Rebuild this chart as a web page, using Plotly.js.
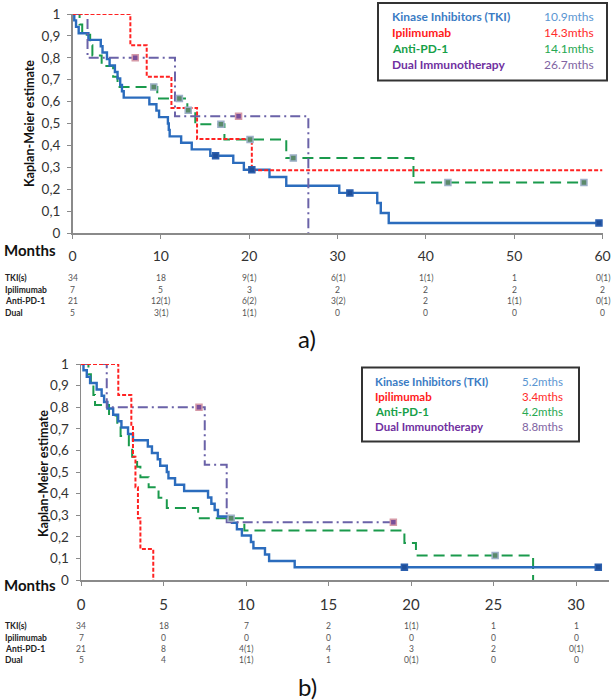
<!DOCTYPE html>
<html>
<head>
<meta charset="utf-8">
<script src="https://cdn.plot.ly/plotly-3.0.1.min.js"></script>
<style>
  html, body { margin: 0; padding: 0; background: #ffffff; }
  #chart { width: 612px; height: 700px; }
</style>
</head>
<body>
<div id="chart"></div>
<script>
// curvas de Kaplan-Meier (tempo do degrau, sobrevida depois do degrau) e censuras
// painel a)
var tkiA_t = [0,0.2,0.4,0.7,1.8,3.2,3.4,3.9,4.2,4.8,5.1,5.4,5.6,5.8,8.7,9.5,9.8,10.8,10.9,11.0,12.3,13.5,15.6,18.2,19.4,22.3,24.2,30.2,34.5,34.9,35.8,59.6];
var tkiA_s = [1,0.971,0.941,0.912,0.882,0.853,0.824,0.794,0.765,0.735,0.706,0.676,0.647,0.618,0.588,0.559,0.529,0.5,0.471,0.441,0.412,0.382,0.353,0.32,0.289,0.256,0.216,0.183,0.137,0.091,0.046,0.046];
var tkiA_cens = [16.2,20.3,31.4,59.6];
var ipiA_t = [0,6.55,8.4,11.2,14.1,20.3,60];
var ipiA_s = [1,0.857,0.714,0.571,0.429,0.286,0.286];
var ipiA_cens = [];
var pd1A_t = [0,0.8,1.1,2.0,2.25,3.3,4.6,5.1,9.6,13.0,13.9,17.2,24.2,38.6,57.9];
var pd1A_s = [1,0.952,0.905,0.857,0.81,0.762,0.714,0.667,0.614,0.561,0.497,0.427,0.342,0.231,0.231];
var pd1A_cens = [9.2,12.1,13.1,16.8,20.1,25.0,42.5,57.9];
var dualA_t = [0,1.7,11.6,26.7];
var dualA_s = [1,0.8,0.533,0];
var dualA_cens = [7.1,18.8];

// painel b)
var tkiB_t = [0,0.15,0.35,0.55,0.95,1.25,1.4,1.6,1.95,2.25,2.45,2.85,3.15,4.05,4.3,4.65,4.8,5.2,5.3,5.7,6.25,7.7,7.9,8.1,8.3,9.15,9.45,9.75,10.3,10.45,11.15,11.4,12.95,31.35];
var tkiB_s = [1,0.971,0.941,0.912,0.882,0.853,0.824,0.794,0.765,0.735,0.706,0.676,0.647,0.618,0.588,0.559,0.529,0.5,0.471,0.441,0.412,0.382,0.353,0.324,0.294,0.265,0.235,0.206,0.176,0.147,0.118,0.088,0.059,0.059];
var tkiB_cens = [19.6,31.35];
var ipiB_t = [0,2.26,3.05,3.15,3.3,3.45,3.6,4.38];
var ipiB_s = [1,0.857,0.714,0.571,0.429,0.286,0.143,0];
var ipiB_cens = [];
var pd1B_t = [0,0.45,0.6,0.75,0.85,1.7,2.2,2.4,2.9,3.1,3.4,3.6,4.1,4.7,5.2,7.1,9.9,19.6,20.3,27.4];
var pd1B_s = [1,0.952,0.905,0.857,0.81,0.762,0.714,0.667,0.619,0.571,0.524,0.476,0.429,0.381,0.333,0.286,0.229,0.171,0.114,0];
var pd1B_cens = [9.1,25.1];
var dualB_t = [0,1.56,7.5,8.83,18.93];
var dualB_s = [1,0.8,0.533,0.267,0.267];
var dualB_cens = [7.15,18.93];

// tabela de pacientes em risco
var groupNames = ['TKI(s)','Ipilimumab','Anti-PD-1','Dual'];
var riskTimesA = [0,10,20,30,40,50,60];
var riskA = [
  ['34','18','9(1)','6(1)','1(1)','1','0(1)'],
  ['7','5','3','2','2','2','2'],
  ['21','12(1)','6(2)','3(2)','2','1(1)','0(1)'],
  ['5','3(1)','1(1)','0','0','0','0']
];
var riskTimesB = [0,5,10,15,20,25,30];
var riskB = [
  ['34','18','7','2','1(1)','1','1'],
  ['7','0','0','0','0','0','0'],
  ['21','8','4(1)','4','3','2','0(1)'],
  ['5','4','1(1)','1','0(1)','0','0']
];

// legendas com a mediana
var legendNames = ['Kinase Inhibitors (TKI)','Ipilimumab','Anti-PD-1','Dual Immunotherapy'];
var mediansA = ['10.9mths','14.3mths','14.1mths','26.7mths'];
var mediansB = ['5.2mths','3.4mths','4.2mths','8.8mths'];

var W = 612, H = 700;
function fx(px) { return px / W; }
function fy(py) { return 1 - py / H; }

var FONT = 'Lato, "Open Sans", sans-serif';
var labelColors = ['#3b7cc4','#ff1a1a','#17a048','#7030a0'];
var valueColors = ['#5b96d2','#ff2a2a','#27a851','#8064a2'];

// valor da curva num tempo (pra pôr a marca de censura em cima da linha)
function stepAt(ts, ss, t) {
  var v = ss[0];
  for (var i = 0; i < ts.length; i++) {
    if (ts[i] <= t) v = ss[i];
  }
  return v;
}

function curve(ts, ss, xa, ya, color, width, dash) {
  return {x: ts, y: ss, xaxis: xa, yaxis: ya, type: 'scatter', mode: 'lines',
    line: {shape: 'hv', color: color, width: width, dash: dash}, hoverinfo: 'skip', showlegend: false};
}

function censMarks(ts, ss, cens, xa, ya, fill, edge) {
  return {x: cens, y: cens.map(function (t) { return stepAt(ts, ss, t); }), xaxis: xa, yaxis: ya,
    type: 'scatter', mode: 'markers', cliponaxis: false,
    marker: {symbol: 'square', size: 6, color: fill, line: {color: edge, width: 1.5}},
    hoverinfo: 'skip', showlegend: false};
}

var BLUE = '#2b6cbd', RED = '#ff2222', GREEN = '#1a9a4c', PURPLE = '#6a62a8';
var dashRed = '4px,2px', dashGreen = '11px,6px', dashDual = '10px,4px,2px,4px';

var data = [
  curve(pd1A_t, pd1A_s, 'x', 'y', GREEN, 2, dashGreen),
  curve(tkiA_t, tkiA_s, 'x', 'y', BLUE, 2.4, 'solid'),
  curve(dualA_t, dualA_s, 'x', 'y', PURPLE, 2, dashDual),
  curve(ipiA_t, ipiA_s, 'x', 'y', RED, 2, dashRed),
  censMarks(pd1A_t, pd1A_s, pd1A_cens, 'x', 'y', '#5b8a6a', '#9db0c8'),
  censMarks(tkiA_t, tkiA_s, tkiA_cens, 'x', 'y', '#1f4f9a', '#2b5fae'),
  censMarks(dualA_t, dualA_s, dualA_cens, 'x', 'y', '#7a4f9a', '#d59aa8'),

  curve(pd1B_t, pd1B_s, 'x2', 'y2', GREEN, 2, dashGreen),
  curve(tkiB_t, tkiB_s, 'x2', 'y2', BLUE, 2.4, 'solid'),
  curve(dualB_t, dualB_s, 'x2', 'y2', PURPLE, 2, dashDual),
  curve(ipiB_t, ipiB_s, 'x2', 'y2', RED, 2, dashRed),
  censMarks(pd1B_t, pd1B_s, pd1B_cens, 'x2', 'y2', '#5b8a6a', '#9db0c8'),
  censMarks(tkiB_t, tkiB_s, tkiB_cens, 'x2', 'y2', '#1f4f9a', '#2b5fae'),
  censMarks(dualB_t, dualB_s, dualB_cens, 'x2', 'y2', '#7a4f9a', '#d59aa8')
];

function xAxis(domain, range, dtick, anchor, size) {
  return {domain: domain, range: range, dtick: dtick, tick0: 0, anchor: anchor,
    showline: true, linecolor: '#8a8a8a', linewidth: 1.5, showgrid: false, zeroline: false,
    ticks: 'outside', ticklen: 4, tickcolor: '#8a8a8a', ticklabelstandoff: 6,
    tickfont: {family: FONT, size: size, color: '#333333'}, fixedrange: true};
}
function yAxis(domain, anchor) {
  return {domain: domain, range: [0, 1], dtick: 0.1, tick0: 0, anchor: anchor,
    showline: true, linecolor: '#8a8a8a', linewidth: 1.5, showgrid: false, zeroline: false,
    ticks: 'outside', ticklen: 4, tickcolor: '#8a8a8a', ticklabelstandoff: 4,
    tickfont: {family: FONT, size: 13.5, color: '#333333'}, fixedrange: true};
}

var annotations = [];
var shapes = [];

function txt(x, y, text, opts) {
  var a = {xref: 'paper', yref: 'paper', x: x, y: y, text: text, showarrow: false,
    xanchor: 'left', yanchor: 'middle', font: {family: FONT, size: 12, color: '#222222'}};
  for (var k in opts) a[k] = opts[k];
  annotations.push(a);
}

// monta os textos de um painel: titulo do eixo, Months, tabela de risco, legenda e letra
function panelTexts(p) {
  txt(fx(p.titleX), fy(p.titleY), '<b>Kaplan-Meier estimate</b>',
    {textangle: -90, xanchor: 'center', font: {family: FONT, size: 12.5, color: '#111111'}});
  txt(fx(2), fy(p.monthsY), '<b>Months</b>', {font: {family: FONT, size: 15, color: '#111111'}});
  for (var r = 0; r < groupNames.length; r++) {
    var ry = fy(p.rowY[r]);
    txt(fx(3), ry, '<b>' + groupNames[r] + '</b>', {font: {family: FONT, size: 8.5, color: '#222222'}});
    for (var c = 0; c < p.times.length; c++) {
      txt(p.times[c], ry, p.risk[r][c], {xref: p.xref, xanchor: 'center',
        font: {family: FONT, size: 8.5, color: '#555555'}});
    }
  }
  shapes.push({type: 'rect', xref: 'paper', yref: 'paper',
    x0: fx(p.box[0]), x1: fx(p.box[1]), y0: fy(p.box[2]), y1: fy(p.box[3]),
    line: {color: '#333333', width: 2}, fillcolor: 'rgba(255,255,255,0)'});
  for (var i = 0; i < legendNames.length; i++) {
    var ly = fy(p.legY[i]);
    txt(fx(p.legX), ly, '<b>' + legendNames[i] + '</b>', {font: {family: FONT, size: p.legSize, color: labelColors[i]}});
    txt(fx(p.valX), ly, p.medians[i], {xanchor: p.valAnchor, font: {family: FONT, size: p.legSize, color: valueColors[i]}});
  }
  txt(fx(307), fy(p.letterY), p.letter, {xanchor: 'center', font: {family: FONT, size: 24, color: '#111111'}});
}

panelTexts({titleX: 29, titleY: 124, monthsY: 250, rowY: [278.3, 289.5, 301, 312.5],
  times: riskTimesA, risk: riskA, xref: 'x', box: [378, 607, 80.5, 3],
  legX: 390, valX: 596, valAnchor: 'right', legY: [16.7, 32.7, 48.5, 64.2], legSize: 12, medians: mediansA,
  letter: 'a)', letterY: 339});
panelTexts({titleX: 43, titleY: 474, monthsY: 585, rowY: [626, 637.5, 649, 659.5],
  times: riskTimesB, risk: riskB, xref: 'x2', box: [362, 579, 441.5, 367.5],
  legX: 373, valX: 520, valAnchor: 'left', legY: [381.7, 396.5, 411.5, 426.5], legSize: 11.5, medians: mediansB,
  letter: 'b)', letterY: 686});

var layout = {
  width: W, height: H,
  margin: {l: 0, r: 0, t: 0, b: 0},
  paper_bgcolor: '#ffffff', plot_bgcolor: '#ffffff',
  separators: ',.',
  showlegend: false,
  font: {family: FONT},
  xaxis: xAxis([fx(72.5), fx(602.5)], [0, 60], 10, 'y', 14),
  yaxis: yAxis([fy(233), fy(14)], 'x'),
  xaxis2: xAxis([fx(81), fx(609)], [0, 32], 5, 'y2', 15),
  yaxis2: yAxis([fy(580), fy(364)], 'x2'),
  annotations: annotations,
  shapes: shapes
};

Plotly.newPlot('chart', data, layout, {displayModeBar: false, staticPlot: true});
</script>
</body>
</html>
